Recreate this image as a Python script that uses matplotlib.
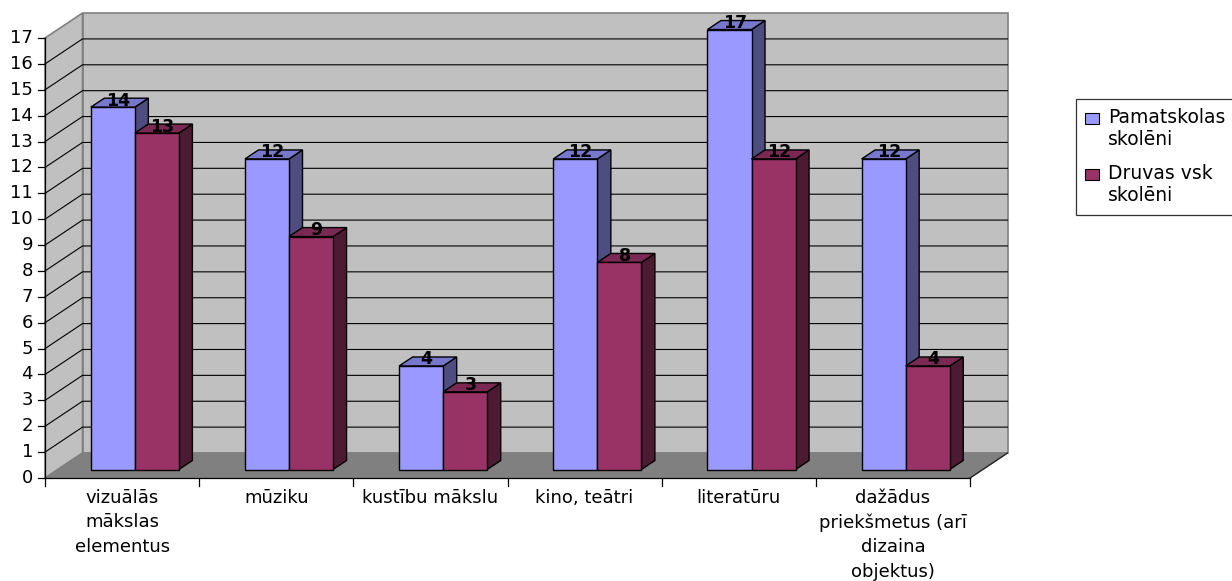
import matplotlib
matplotlib.use("Agg")
import matplotlib.pyplot as plt
from matplotlib.patches import Polygon, Patch, Rectangle
from matplotlib.legend_handler import HandlerPatch

categories = [
    "vizuālās\nmākslas\nelementus",
    "mūziku",
    "kustību mākslu",
    "kino, teātri",
    "literatūru",
    "dažādus\npriekšmetus (arī\ndizaina\nobjektus)",
]
pamatskolas = [14, 12, 4, 12, 17, 12]
druvas = [13, 9, 3, 8, 12, 4]
series_labels = ["Pamatskolas\nskolēni", "Druvas vsk\nskolēni"]
y_ticks = list(range(0, 18))

# front / top / side shades for each series
faces = [
    ("#9999FF", "#7777CC", "#4D4D80"),
    ("#993366", "#7A2952", "#4D1A33"),
]

W, H = 1232, 581
X0, CAT_W = 45.0, 154.17      # left edge of the floor and width of one category, px
Y0, UNIT = 478.0, 25.88       # floor line from the top and px per unit
DEPTH_PX = (37.5, 25.0)       # how far the back wall sits behind the front plane
BAR_F0, BAR_F1 = 0.34, 0.70   # bar front / back as a share of the depth
GAP = 1.5                     # gap width between groups, in bar widths

fig = plt.figure(figsize=(W / 100, H / 100), dpi=100)
ax = fig.add_axes([0, 0, 1, 1])
ax.set_xlim(-X0 / CAT_W, (W - X0) / CAT_W)
ax.set_ylim((Y0 - H) / UNIT, Y0 / UNIT)
ax.axis("off")

DX = DEPTH_PX[0] / CAT_W
DY = DEPTH_PX[1] / UNIT
n = len(categories)
top = y_ticks[-1]


def p(x, y, f):
    return (x + f * DX, y + f * DY)


def quad(pts, fc, ec, lw=0.8, z=1):
    ax.add_patch(Polygon(pts, closed=True, facecolor=fc, edgecolor=ec,
                         linewidth=lw, zorder=z, joinstyle="miter"))


# walls and floor
quad([p(0, 0, 1), p(n, 0, 1), p(n, top, 1), p(0, top, 1)], "#C0C0C0", "#808080", 1.2)
quad([p(0, 0, 0), p(0, 0, 1), p(0, top, 1), p(0, top, 0)], "#C0C0C0", "#808080", 1.2)
quad([p(0, 0, 0), p(n, 0, 0), p(n, 0, 1), p(0, 0, 1)], "#808080", "#808080", 1.0)

# gridlines across side wall and back wall
for v in y_ticks[1:-1]:
    a, b, c = p(0, v, 0), p(0, v, 1), p(n, v, 1)
    ax.plot([a[0], b[0], c[0]], [a[1], b[1], c[1]], color="black", lw=0.8, zorder=2)

# axes lines and ticks
ax.plot([0, 0], [0, top], color="black", lw=0.9, zorder=3)
ax.plot([0, n], [0, 0], color="black", lw=0.9, zorder=3)
a, b = p(n, 0, 0), p(n, 0, 1)
ax.plot([a[0], b[0]], [a[1], b[1]], color="#202020", lw=0.9, zorder=3)
for v in y_ticks:
    ax.plot([-7 / CAT_W, 0], [v, v], color="black", lw=0.9, zorder=3)
    ax.text(-12 / CAT_W, v, str(v), ha="right", va="center", fontsize=13)
for i in range(n + 1):
    ax.plot([i, i], [0, -8 / UNIT], color="black", lw=0.9, zorder=3)
for i, lab in enumerate(categories):
    ax.text(i + 0.5, -11 / UNIT, lab, ha="center", va="top", fontsize=13,
            multialignment="center", linespacing=1.45)

# bars, left to right so nearer faces cover farther ones
bw = 1.0 / (2 + GAP)
z = 10
for i in range(n):
    for s, vals in enumerate([pamatskolas, druvas]):
        h = vals[i]
        x0 = i + GAP * bw / 2 + s * bw
        x1 = x0 + bw
        front_c, top_c, side_c = faces[s]
        quad([p(x1, 0, BAR_F0), p(x1, 0, BAR_F1), p(x1, h, BAR_F1), p(x1, h, BAR_F0)],
             side_c, "black", 1.0, z)
        quad([p(x0, h, BAR_F0), p(x1, h, BAR_F0), p(x1, h, BAR_F1), p(x0, h, BAR_F1)],
             top_c, "black", 1.0, z)
        quad([p(x0, 0, BAR_F0), p(x1, 0, BAR_F0), p(x1, h, BAR_F0), p(x0, h, BAR_F0)],
             front_c, "black", 1.0, z)
        z += 1
        cx, cy = p((x0 + x1) / 2, h, (BAR_F0 + BAR_F1) / 2)
        ax.text(cx - 1.5 / CAT_W, cy - 3 / UNIT, str(h), ha="center", va="baseline",
                fontsize=12.5, fontweight="bold", zorder=100)


def top_square(legend, orig_handle, xdescent, ydescent, width, height, fontsize):
    # keep the key level with the first line of a two-line label
    return Rectangle((-xdescent, -ydescent + 0.6 * fontsize), width, height)


handles = [Patch(facecolor=faces[s][0], edgecolor="black", linewidth=0.8) for s in range(2)]
leg = fig.legend(handles, series_labels, loc="upper left",
                 bbox_to_anchor=(1076 / W, 1 - 99 / H), fontsize=13.5,
                 frameon=True, fancybox=False, borderaxespad=0,
                 handlelength=0.7, handleheight=0.55, handletextpad=0.5,
                 borderpad=0.5, labelspacing=0.8,
                 handler_map={Patch: HandlerPatch(patch_func=top_square)})
leg.get_frame().set_edgecolor("black")
leg.get_frame().set_linewidth(0.9)

fig.savefig("out.png", dpi=100)
